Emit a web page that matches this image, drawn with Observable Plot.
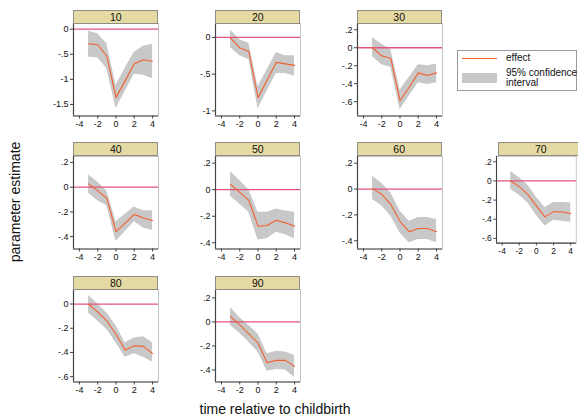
<!DOCTYPE html>
<html>
<head>
<meta charset="utf-8">
<script src="https://cdn.jsdelivr.net/npm/d3@7"></script>
<script src="https://cdn.jsdelivr.net/npm/@observablehq/plot@0.6"></script>
<style>
  html, body { margin: 0; padding: 0; background: #fff; overflow: hidden; }
  #root { position: relative; width: 578px; height: 417px; overflow: hidden; font-family: "Liberation Sans", Arial, sans-serif; color: #111; }
  .panel { position: absolute; }
  .strip { position: absolute; box-sizing: border-box; background: #e6daa4; border: 1px solid #8e8e84; font-size: 10.5px; font-weight: normal; text-align: center; line-height: 12px; }
  .title { position: absolute; font-size: 14px; white-space: nowrap; }
  #legend { position: absolute; left: 457px; top: 50px; width: 120px; height: 41px; box-sizing: border-box; border: 1px solid #9a9a9a; background: #fff; font-size: 10px; }
</style>
</head>
<body>
<div id="root"></div>
<script>
// ---- data ----
const times = [-3, -2, -1, 0, 1, 2, 3, 4];
const panels = [10, 20, 30, 40, 50, 60, 70, 80, 90];
const effect = [
  [-0.29, -0.31, -0.54, -1.36, -1.03, -0.69, -0.61, -0.64],
  [-0.01, -0.14, -0.19, -0.82, -0.58, -0.34, -0.36, -0.38],
  [0.0, -0.09, -0.12, -0.59, -0.44, -0.28, -0.31, -0.28],
  [0.027, -0.03, -0.09, -0.36, -0.29, -0.22, -0.25, -0.27],
  [0.04, -0.02, -0.08, -0.275, -0.27, -0.23, -0.25, -0.275],
  [0.005, -0.04, -0.12, -0.25, -0.33, -0.305, -0.305, -0.33],
  [0.0, -0.06, -0.14, -0.26, -0.375, -0.32, -0.325, -0.34],
  [0.0, -0.067, -0.14, -0.25, -0.38, -0.345, -0.35, -0.41],
  [0.044, -0.025, -0.10, -0.175, -0.34, -0.32, -0.32, -0.37]
];
const ciHigh = [
  [-0.04, -0.09, -0.29, -1.12, -0.78, -0.46, -0.34, -0.30],
  [0.10, -0.03, -0.08, -0.67, -0.44, -0.21, -0.25, -0.25],
  [0.11, 0.04, -0.02, -0.47, -0.33, -0.19, -0.20, -0.18],
  [0.10, 0.04, -0.03, -0.28, -0.22, -0.16, -0.19, -0.19],
  [0.135, 0.07, 0.0, -0.17, -0.17, -0.145, -0.16, -0.17],
  [0.10, 0.045, -0.03, -0.17, -0.25, -0.22, -0.22, -0.235],
  [0.10, 0.035, -0.045, -0.17, -0.28, -0.225, -0.225, -0.23],
  [0.07, 0.0, -0.075, -0.18, -0.32, -0.28, -0.27, -0.32],
  [0.12, 0.035, -0.03, -0.10, -0.265, -0.245, -0.25, -0.28]
];
const ciLow = [
  [-0.56, -0.57, -0.79, -1.58, -1.24, -0.90, -0.92, -0.99],
  [-0.14, -0.25, -0.30, -0.97, -0.73, -0.49, -0.49, -0.53],
  [-0.10, -0.19, -0.22, -0.69, -0.54, -0.39, -0.41, -0.39],
  [-0.05, -0.11, -0.15, -0.44, -0.36, -0.28, -0.33, -0.35],
  [-0.05, -0.11, -0.17, -0.38, -0.37, -0.32, -0.34, -0.37],
  [-0.08, -0.13, -0.21, -0.34, -0.415, -0.39, -0.39, -0.415],
  [-0.09, -0.15, -0.23, -0.36, -0.47, -0.41, -0.42, -0.43],
  [-0.075, -0.14, -0.21, -0.32, -0.44, -0.41, -0.44, -0.48],
  [-0.03, -0.095, -0.17, -0.25, -0.41, -0.395, -0.40, -0.46]
];
const yDomains = [
  [-1.73, 0.113], [-1.07, 0.19], [-0.76, 0.27],
  [-0.5, 0.248], [-0.447, 0.25], [-0.464, 0.252],
  [-0.65, 0.257], [-0.644, 0.12], [-0.5, 0.27]
];
const yTicks = [
  [0, -0.5, -1, -1.5], [0, -0.5, -1], [0.2, 0, -0.2, -0.4, -0.6],
  [0.2, 0, -0.2, -0.4], [0.2, 0, -0.2, -0.4], [0.2, 0, -0.2, -0.4],
  [0.2, 0, -0.2, -0.4, -0.6], [0, -0.2, -0.4, -0.6], [0.2, 0, -0.2, -0.4]
];
const xTicks = [-4, -2, 0, 2, 4];
const xDomain = [-4.65, 4.65];
const legendLabels = ["effect", "95% confidence", "interval"];
const xTitle = "time relative to childbirth";
const yTitle = "parameter estimate";

// ---- layout ----
const panelCol = [0, 1, 2, 0, 1, 2, 3, 0, 1];
const panelRow = [0, 0, 0, 1, 1, 1, 1, 2, 2];
const colLeft = [73.3, 215.3, 356.7, 498.3];
const rowTop = [23, 155.7, 289];
const plotW = 85, plotH = 92.5, stripH = 13.5;
const mL = 32, mR = 2, mT = 2, mB = 22;

const fmt = d => d === 0 ? "0" : String(d).replace(/^(-?)0\./, "$1.");
const root = document.getElementById("root");

panels.forEach((p, i) => {
  const left = colLeft[panelCol[i]], top = rowTop[panelRow[i]];
  const data = times.map((t, j) => ({t, est: effect[i][j], lo: ciLow[i][j], hi: ciHigh[i][j]}));
  const yd = yDomains[i];
  const chart = Plot.plot({
    width: mL + plotW + mR,
    height: mT + plotH + mB,
    marginLeft: mL, marginRight: mR, marginTop: mT, marginBottom: mB,
    style: {fontFamily: "Liberation Sans, Arial, sans-serif", fontSize: "9px", color: "#111", background: "transparent", overflow: "visible"},
    x: {domain: xDomain, label: null},
    y: {domain: yd, label: null},
    marks: [
      Plot.frame({stroke: "#c4c4c4"}),
      Plot.areaY(data, {x: "t", y1: "lo", y2: "hi", fill: "#c8c8c8", fillOpacity: 1}),
      Plot.ruleY([0], {stroke: "#e2557a", strokeWidth: 1.3}),
      Plot.lineY(data, {x: "t", y: "est", stroke: "#f2602e", strokeWidth: 1.1}),
      Plot.ruleX([xDomain[0]], {stroke: "#444", strokeWidth: 1.2}),
      Plot.ruleY([yd[0]], {stroke: "#444", strokeWidth: 1.2}),
      Plot.axisY({ticks: yTicks[i], tickFormat: fmt, tickSize: 3, tickPadding: 2, fontSize: 9, stroke: "#444", label: null}),
      Plot.axisX({ticks: xTicks, tickFormat: fmt, tickSize: 3, tickPadding: 2, fontSize: 9, stroke: "#444", label: null})
    ]
  });
  const wrap = document.createElement("div");
  wrap.className = "panel";
  wrap.style.left = (left - mL) + "px";
  wrap.style.top = (top - mT) + "px";
  wrap.appendChild(chart);
  root.appendChild(wrap);
  const strip = document.createElement("div");
  strip.className = "strip";
  strip.style.left = left + "px";
  strip.style.top = (top - stripH) + "px";
  strip.style.width = plotW + "px";
  strip.style.height = (stripH + 0.5) + "px";
  strip.textContent = String(p);
  root.appendChild(strip);
});

// axis titles
const xt = document.createElement("div");
xt.className = "title";
xt.textContent = xTitle;
xt.style.left = "275px"; xt.style.top = "401px"; xt.style.transform = "translateX(-50%)";
root.appendChild(xt);
const yt = document.createElement("div");
yt.className = "title";
yt.textContent = yTitle;
yt.style.left = "15px"; yt.style.top = "202px";
yt.style.transform = "translate(-50%, -50%) rotate(-90deg)";
root.appendChild(yt);

// legend
const lg = document.createElement("div");
lg.id = "legend";
lg.innerHTML =
  '<div style="position:absolute;left:4px;top:7px;width:35px;height:0;border-top:1.3px solid #f2602e"></div>' +
  '<div style="position:absolute;left:48px;top:1px;line-height:12px;white-space:nowrap">' + legendLabels[0] + '</div>' +
  '<div style="position:absolute;left:4px;top:22px;width:35px;height:10px;background:#c8c8c8"></div>' +
  '<div style="position:absolute;left:48px;top:17px;line-height:10px;white-space:nowrap">' + legendLabels[1] + '</div>' +
  '<div style="position:absolute;left:48px;top:27px;line-height:10px;white-space:nowrap">' + legendLabels[2] + '</div>';
root.appendChild(lg);
</script>
</body>
</html>
